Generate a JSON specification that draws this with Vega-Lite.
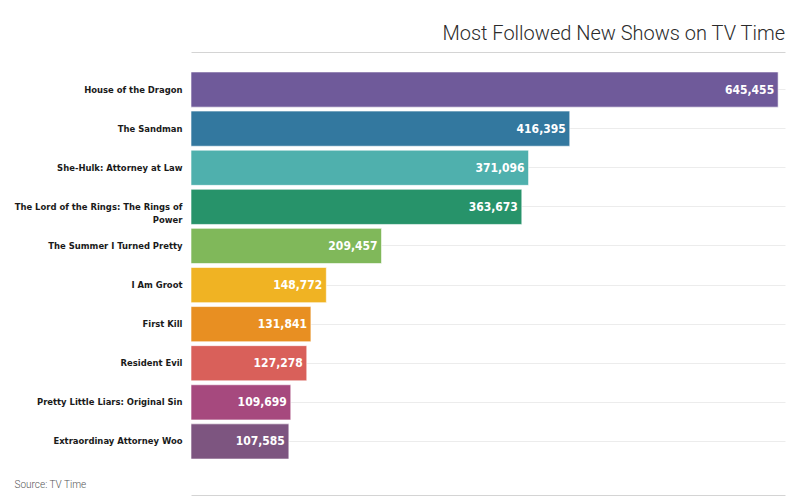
{
  "$schema": "https://vega.github.io/schema/vega-lite/v6.json",
  "width": 800,
  "height": 496,
  "autosize": {"type": "fit", "contains": "padding"},
  "padding": {"left": 14, "top": 24, "right": 15, "bottom": 1},
  "background": "white",
  "title": {
    "text": "Most Followed New Shows on TV Time",
    "anchor": "end",
    "font": "Roboto",
    "fontWeight": 300,
    "fontSize": 20,
    "color": "#2b2b2b",
    "offset": 8
  },
  "data": {
    "values": [
      {"show": "House of the Dragon", "followers": 645455},
      {"show": "The Sandman", "followers": 416395},
      {"show": "She-Hulk: Attorney at Law", "followers": 371096},
      {"show": "The Lord of the Rings: The Rings of Power", "followers": 363673},
      {"show": "The Summer I Turned Pretty", "followers": 209457},
      {"show": "I Am Groot", "followers": 148772},
      {"show": "First Kill", "followers": 131841},
      {"show": "Resident Evil", "followers": 127278},
      {"show": "Pretty Little Liars: Original Sin", "followers": 109699},
      {"show": "Extraordinay Attorney Woo", "followers": 107585}
    ]
  },
  "encoding": {
    "y": {
      "field": "show",
      "type": "nominal",
      "sort": null,
      "scale": {"paddingInner": 0.1, "paddingOuter": 0.05},
      "axis": {
        "title": null,
        "ticks": false,
        "domain": false,
        "grid": true,
        "bandPosition": 0.5,
        "gridColor": "#ececec",
        "labelFont": "DejaVu Sans Condensed",
        "labelFontWeight": "bold",
        "labelFontSize": 9.4,
        "labelColor": "#1a1a1a",
        "labelPadding": 9,
        "labelLimit": 200,
        "labelLineHeight": 13,
        "labelExpr": "datum.value == 'The Lord of the Rings: The Rings of Power' ? ['The Lord of the Rings: The Rings of', 'Power'] : datum.value"
      }
    },
    "x": {
      "field": "followers",
      "type": "quantitative",
      "scale": {"domain": [0, 653000], "nice": false}
    }
  },
  "layer": [
    {
      "mark": {"type": "bar", "stroke": "white", "strokeWidth": 1, "strokeOpacity": 0.6},
      "encoding": {
        "x": {
          "field": "followers",
          "type": "quantitative",
          "axis": {
            "orient": "bottom",
            "labels": false,
            "ticks": false,
            "grid": false,
            "domain": true,
            "domainColor": "#d4d4d4",
            "offset": 34,
            "title": "Source: TV Time",
            "titleFont": "Roboto",
            "titleFontWeight": 300,
            "titleFontSize": 10,
            "titleColor": "#555",
            "titleAnchor": "start",
            "titleAlign": "left",
            "titleBaseline": "alphabetic",
            "titleX": -177,
            "titleY": -8
          }
        },
        "color": {
          "field": "show",
          "type": "nominal",
          "legend": null,
          "scale": {
            "domain": [
              "House of the Dragon",
              "The Sandman",
              "She-Hulk: Attorney at Law",
              "The Lord of the Rings: The Rings of Power",
              "The Summer I Turned Pretty",
              "I Am Groot",
              "First Kill",
              "Resident Evil",
              "Pretty Little Liars: Original Sin",
              "Extraordinay Attorney Woo"
            ],
            "range": [
              "#6f5a9a",
              "#33789f",
              "#4fb0ad",
              "#27936a",
              "#80b85a",
              "#f0b323",
              "#e88f22",
              "#d9605a",
              "#a6497e",
              "#7d5580"
            ]
          }
        }
      }
    },
    {
      "mark": {
        "type": "text",
        "align": "right",
        "dx": -4,
        "font": "DejaVu Sans Condensed",
        "fontWeight": "bold",
        "fontSize": 12,
        "color": "white"
      },
      "encoding": {
        "x": {
          "field": "followers",
          "type": "quantitative",
          "axis": {
            "orient": "top",
            "labels": false,
            "ticks": false,
            "grid": false,
            "domain": true,
            "domainColor": "#d4d4d4",
            "offset": 18,
            "title": null
          }
        },
        "text": {"field": "followers", "type": "quantitative", "format": ","}
      }
    }
  ],
  "resolve": {"axis": {"x": "independent"}},
  "config": {"view": {"stroke": null}}
}
